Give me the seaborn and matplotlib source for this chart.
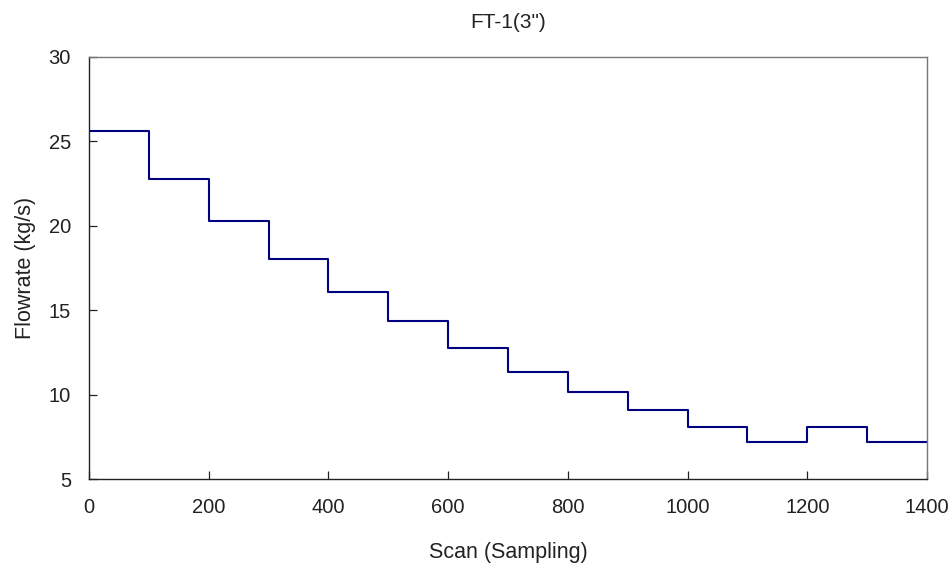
import matplotlib
matplotlib.use("Agg")
import matplotlib.pyplot as plt
import seaborn as sns
import pandas as pd

# Step boundaries (scan index) and the flowrate level held over each interval
scan_start = [0, 100, 200, 300, 400, 500, 600, 700, 800, 900, 1000, 1100, 1200, 1300, 1400]
flowrate = [25.6, 22.75, 20.28, 18.03, 16.08, 14.36, 12.76, 11.34, 10.15, 9.07, 8.1, 7.2, 8.1, 7.22, 7.22]

x_ticks = [0, 200, 400, 600, 800, 1000, 1200, 1400]
y_ticks = [5, 10, 15, 20, 25, 30]

sns.set_theme(style="white")
plt.rcParams["font.family"] = ["Liberation Sans", "DejaVu Sans"]

df = pd.DataFrame({"scan": scan_start, "flow": flowrate})

fig = plt.figure(figsize=(9.52, 5.67), dpi=100)
ax = fig.add_axes([0.0935, 0.1552, 0.8802, 0.7443])

sns.lineplot(data=df, x="scan", y="flow", ax=ax, color="#000080",
             linewidth=1.5, drawstyle="steps-post", estimator=None)

ax.set_xlim(0, 1400)
ax.set_ylim(5, 30)
ax.set_xticks(x_ticks)
ax.set_yticks(y_ticks)
ax.tick_params(axis="both", direction="in", length=6, width=0.9,
               labelsize=14.5, colors="#222222", bottom=True, left=True)
ax.tick_params(axis="x", pad=14)
ax.tick_params(axis="y", pad=13)
for name, s in ax.spines.items():
    s.set_linewidth(1.0)
    s.set_color("#777777" if name in ("top", "right") else "#222222")

ax.set_xlabel("Scan (Sampling)", fontsize=15.5, color="#222222", labelpad=18)
ax.set_ylabel("Flowrate (kg/s)", fontsize=15.5, color="#222222", labelpad=9)
ax.set_title("FT-1(3\")", fontsize=15, color="#222222", pad=21)

fig.savefig("out.png", dpi=100)
